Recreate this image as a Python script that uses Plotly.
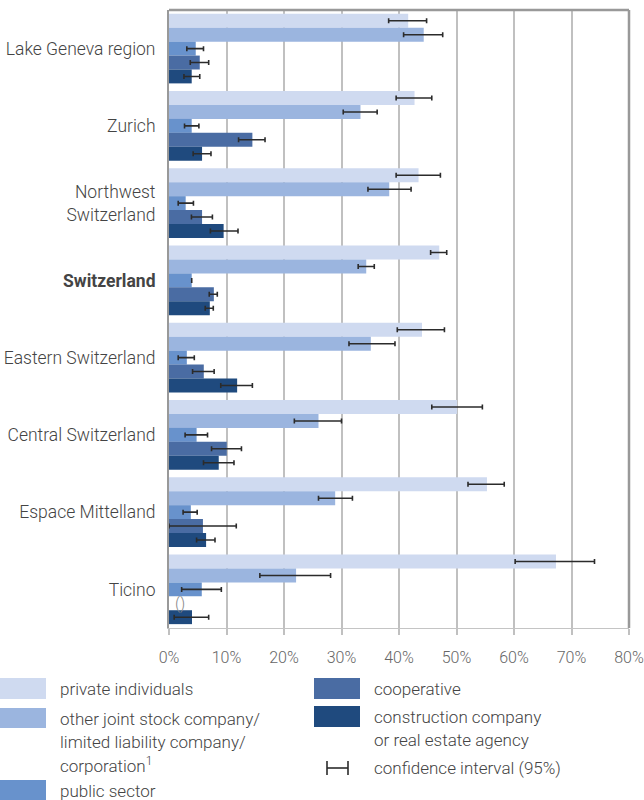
import plotly.graph_objects as go

regions = ["Lake Geneva region", "Zurich", "Northwest<br>Switzerland", "<b>Switzerland</b>",
           "Eastern Switzerland", "Central Switzerland", "Espace Mittelland", "Ticino"]

series_names = ["private individuals",
                "other joint stock company/ limited liability company/ corporation¹",
                "public sector", "cooperative",
                "construction company or real estate agency"]
colors = ["#cfdaf0", "#9bb5df", "#6892cc", "#4a6ca3", "#1f4a7e"]

private = [41.6, 42.7, 43.4, 47.0, 44.0, 50.1, 55.3, 67.3]
private_lo = [38.2, 39.5, 39.5, 45.5, 39.7, 45.7, 52.0, 60.2]
private_hi = [44.8, 45.7, 47.2, 48.3, 47.9, 54.5, 58.3, 74.0]

other = [44.3, 33.3, 38.3, 34.3, 35.1, 26.0, 28.9, 22.1]
other_lo = [40.8, 30.3, 34.6, 32.9, 31.3, 21.8, 26.0, 15.8]
other_hi = [47.6, 36.2, 42.1, 35.7, 39.3, 30.0, 31.9, 28.1]

public = [4.65, 3.95, 2.9, 3.95, 3.1, 4.8, 3.8, 5.7]
public_lo = [3.1, 2.7, 1.6, None, 1.6, 2.8, 2.45, 2.2]
public_hi = [6.0, 5.2, 4.25, None, 4.4, 6.7, 4.9, 9.1]

coop = [5.35, 14.5, 5.75, 7.8, 6.05, 10.05, 5.9, None]
coop_lo = [3.7, 12.1, 3.9, 7.0, 4.1, 7.4, 0.0, None]
coop_hi = [6.9, 16.7, 7.55, 8.4, 7.85, 12.6, 11.7, None]

constr = [3.95, 5.75, 9.5, 7.1, 11.85, 8.65, 6.45, 4.0]
constr_lo = [2.6, 4.2, 7.2, 6.3, 9.0, 6.0, 4.8, 0.9]
constr_hi = [5.35, 7.3, 12.0, 7.7, 14.5, 11.3, 8.0, 6.9]

x_ticks = [0, 10, 20, 30, 40, 50, 60, 70, 80]
x_tick_labels = ["0%", "10%", "20%", "30%", "40%", "50%", "60%", "70%", "80%"]

all_series = [
    (private, private_lo, private_hi),
    (other, other_lo, other_hi),
    (public, public_lo, public_hi),
    (coop, coop_lo, coop_hi),
    (constr, constr_lo, constr_hi),
]

FONT = "Roboto"
L, R, T, B = 169, 629, 10, 628
W, H = R - L, B - T

fig = go.Figure()
for name, color, (vals, lo, hi) in zip(series_names, colors, all_series):
    plus = [None if (v is None or h is None) else h - v for v, h in zip(vals, hi)]
    minus = [None if (v is None or l is None) else v - l for v, l in zip(vals, lo)]
    fig.add_trace(go.Bar(
        y=regions, x=vals, orientation="h", name=name,
        marker=dict(color=color, line=dict(width=0)),
        error_x=dict(type="data", symmetric=False, array=plus, arrayminus=minus,
                     color="#2b2b2b", thickness=1.6, width=2.5),
        showlegend=False,
    ))

fig.update_layout(
    width=644, height=800,
    margin=dict(l=L, r=644 - R, t=T, b=800 - B),
    barmode="group", bargap=0.1, bargroupgap=0,
    plot_bgcolor="white", paper_bgcolor="white",
    font=dict(family=FONT, size=16, color="#444", weight=300),
    showlegend=False,
)
fig.update_xaxes(
    range=[0, 80], tickvals=x_ticks, ticktext=x_tick_labels,
    showgrid=True, gridcolor="#c0c0c0", gridwidth=1.8,
    showline=True, linecolor="#c4c4c4", linewidth=1,
    ticks="outside", ticklen=6, tickcolor="#c0c0c0", tickwidth=1.8,
    ticklabelstandoff=9, automargin=False,
    tickfont=dict(family=FONT, size=16, color="#666", weight=300),
    zeroline=False,
)
fig.update_yaxes(
    autorange="reversed", showline=True, linecolor="#999", linewidth=2,
    ticks="", ticklabelstandoff=8, showgrid=False, automargin=False,
    tickfont=dict(family=FONT, size=17.5, color="#444", weight=300),
)

# top and right frame lines
fig.add_shape(type="line", xref="paper", yref="paper", x0=0, x1=1, y0=1, y1=1,
              line=dict(color="#999", width=2.5))
fig.add_shape(type="line", xref="paper", yref="paper", x0=1, x1=1, y0=0, y1=1,
              line=dict(color="#999", width=2.5))

# "()" marker for missing cooperative value in Ticino
fig.add_annotation(x=0, y=regions[-1], xref="x", yref="y", text="()", showarrow=False,
                   xanchor="left", xshift=4, yshift=-14,
                   font=dict(family=FONT, size=16, color="#888", weight=300))


def fx(p):
    return (p - L) / W


def fy(p):
    return (B - p) / H


legend_items = [
    (0, 678, 699, colors[0], 58, [(689, "private individuals")]),
    (0, 708, 728, colors[1], 58, [(719, "other joint stock company/"),
                                  (742, "limited liability company/"),
                                  (765, "corporation<sup>1</sup>")]),
    (0, 780, 801, colors[2], 58, [(791, "public sector")]),
    (314, 678, 699, colors[3], 372, [(689, "cooperative")]),
    (314, 706, 727, colors[4], 372, [(717, "construction company"),
                                     (740, "or real estate agency")]),
]

for x0, y0, y1, col, tx, lines in legend_items:
    fig.add_shape(type="rect", xref="paper", yref="paper",
                  x0=fx(x0), x1=fx(x0 + 46), y0=fy(y1), y1=fy(y0),
                  fillcolor=col, line=dict(width=0), layer="above")
    for ty, t in lines:
        fig.add_annotation(xref="paper", yref="paper", x=fx(tx), y=fy(ty),
                           text=t, showarrow=False, xanchor="left", yanchor="middle",
                           font=dict(family=FONT, size=17, color="#444", weight=300))

# confidence interval legend symbol
fig.add_shape(type="line", xref="paper", yref="paper",
              x0=fx(327), x1=fx(348), y0=fy(768), y1=fy(768),
              line=dict(color="#2b2b2b", width=1.6))
for cx in (327, 348):
    fig.add_shape(type="line", xref="paper", yref="paper",
                  x0=fx(cx), x1=fx(cx), y0=fy(761), y1=fy(775),
                  line=dict(color="#2b2b2b", width=1.6))
fig.add_annotation(xref="paper", yref="paper", x=fx(372), y=fy(768),
                   text="confidence interval (95%)", showarrow=False,
                   xanchor="left", yanchor="middle",
                   font=dict(family=FONT, size=17, color="#444", weight=300))

fig.write_html("out.html", config={"displayModeBar": False},
               post_script="document.body.style.margin='0';")
